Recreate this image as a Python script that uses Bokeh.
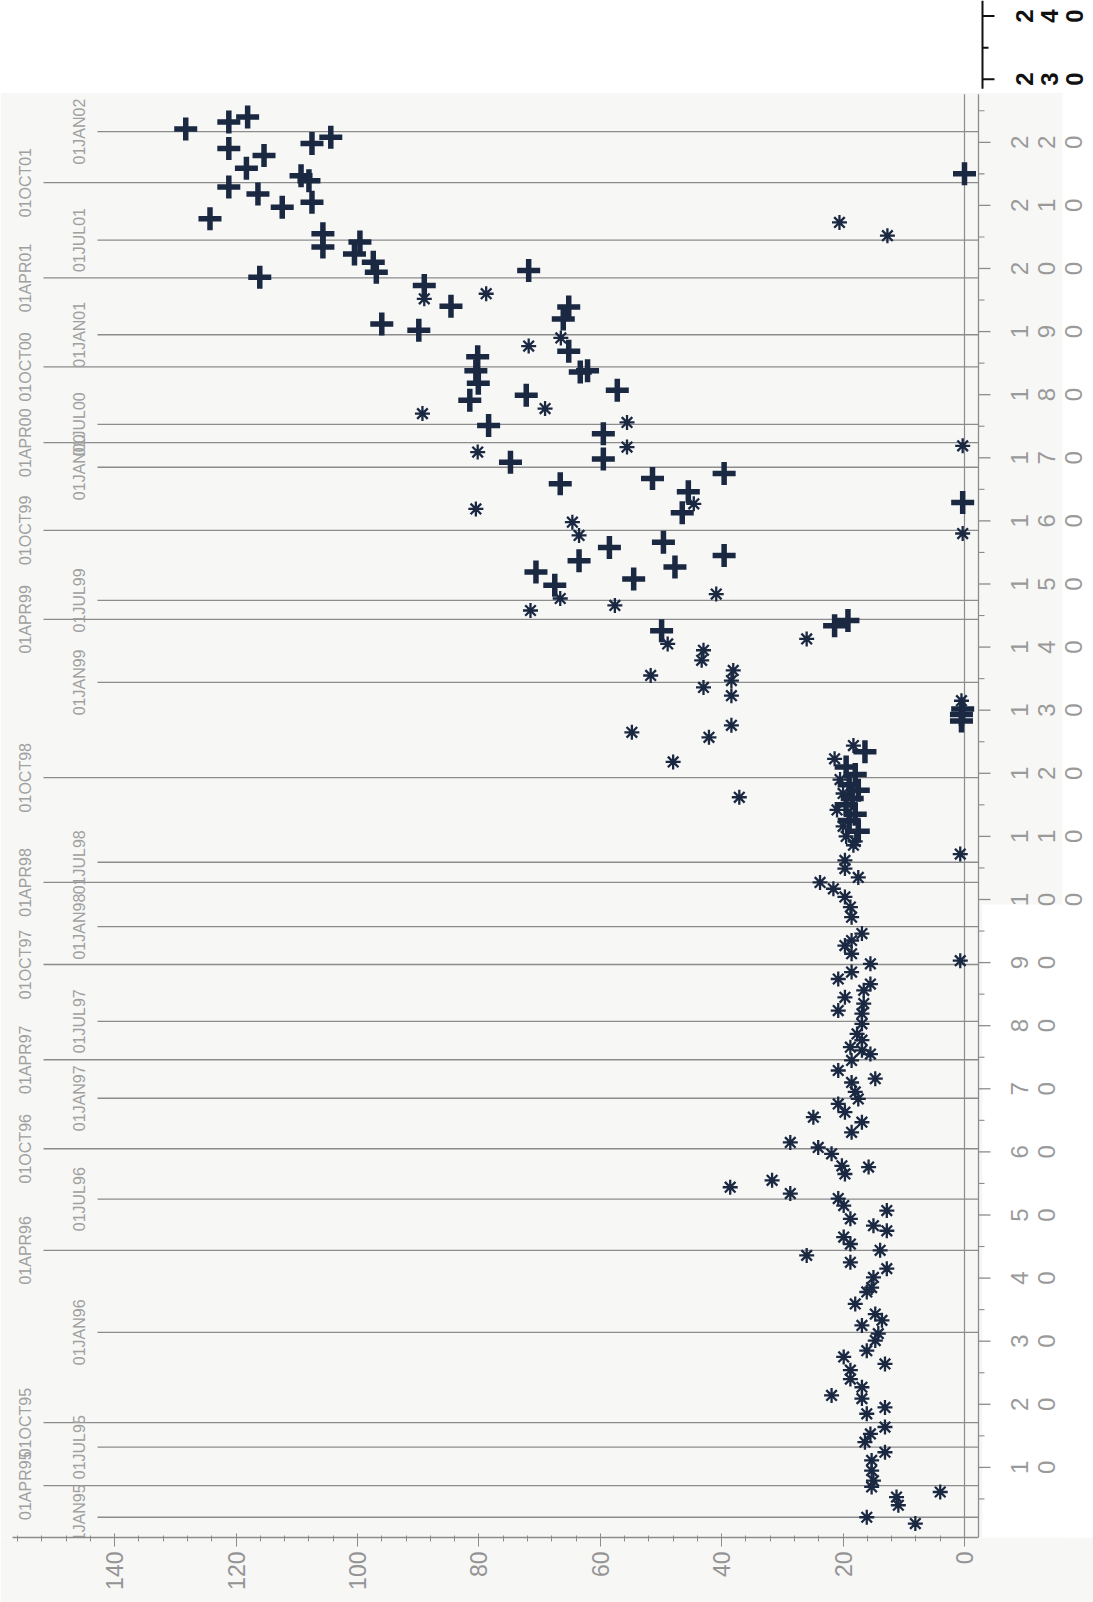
import math
from bokeh.plotting import figure
from bokeh.models import Range1d, LinearAxis, FixedTicker, BoxAnnotation
from bokeh.core.properties import value
from bokeh.embed import file_html
from bokeh.resources import INLINE

# ---------------- data ----------------
star_value = [89.0, 78.8, 66.5, 71.8, 69.1, 89.3, 55.6, 55.6, 80.2, 20.6, 12.7, 0.3,
              80.5, 44.6, 0.3, 64.6, 63.5, 66.6, 40.9, 71.5, 57.6, 26.0, 48.9, 43.0,
              43.3, 38.1, 51.7, 43.0, 38.4, 38.4, 38.4, 42.1, 54.8, 48.0, 0.5, 18.3,
              21.4, 37.1,
              20.5, 20.0, 21.0, 20.0, 19.5, 18.0,
              18.3, 19.7, 19.7, 17.5, 23.8, 21.6, 19.7, 18.8, 18.6, 16.9, 18.6, 19.7,
              18.6, 15.5, 18.6, 20.8, 15.5, 16.6, 19.7, 16.6, 20.8, 16.9, 16.9, 17.7,
              16.9, 18.8, 15.5, 16.9, 18.6, 20.8, 14.7, 18.6, 18.0, 17.5, 20.8, 19.7,
              24.9, 16.9, 18.6, 28.7, 24.1, 21.9, 0.7, 0.7,
              20.2, 19.7, 15.8, 38.6, 31.7, 28.7, 20.8, 19.9, 18.8, 12.8, 15.0, 12.8,
              19.9, 18.8, 13.9, 26.0, 18.8, 12.8, 15.0, 15.3, 16.1, 18.0, 14.7, 13.6,
              16.9, 14.2, 14.7, 16.1, 13.1, 19.9, 18.8, 18.8, 21.9, 16.9, 16.9, 16.1,
              13.1, 13.1, 15.5, 16.4, 13.1, 15.3, 15.3, 15.0, 15.3, 4.0, 11.2, 10.9,
              16.1, 8.1]
star_seq = [195.2, 196.0, 189.0, 187.7, 177.8, 177.0, 175.6, 171.7, 170.9, 207.3, 205.2, 171.9,
            161.9, 162.7, 158.0, 159.8, 157.7, 147.7, 148.4, 145.8, 146.6, 141.3, 140.5, 139.5,
            137.9, 136.3, 135.5, 133.6, 134.7, 132.3, 127.6, 125.7, 126.5, 121.8, 131.5, 124.4,
            122.3, 116.2,
            119.0, 116.8, 114.2, 111.6, 110.0, 109.2,
            108.6, 106.2, 104.9, 103.5, 102.7, 101.7, 100.4, 98.8, 97.2, 94.6, 93.5, 92.7,
            91.4, 89.8, 88.5, 87.4, 86.6, 85.6, 84.5, 83.5, 82.4, 81.9, 80.3, 78.7,
            77.7, 76.6, 75.5, 76.1, 74.5, 72.9, 71.6, 71.0, 69.5, 68.4, 67.6, 66.3,
            65.5, 64.7, 63.1, 61.5, 60.7, 59.7, 107.2, 90.3,
            57.8, 56.5, 57.6, 54.4, 55.5, 53.4, 52.6, 51.5, 49.4, 50.7, 48.3, 47.5,
            46.5, 45.4, 44.4, 43.6, 42.5, 41.5, 40.1, 38.5, 37.8, 35.9, 34.3, 33.3,
            32.5, 31.2, 30.1, 28.5, 26.4, 27.5, 25.4, 24.0, 21.4, 22.7, 20.9, 18.5,
            19.5, 16.4, 15.3, 14.0, 12.4, 11.1, 9.5, 7.9, 6.9, 6.1, 5.3, 4.0,
            2.1, 1.1]

plus_value = [128.3, 121.2, 118.1, 107.5, 104.4, 121.2, 115.4, 118.3, 109.3, 108.0, 121.2, 116.4,
              112.4, 107.5, 124.3, 105.7, 105.7, 99.6, 100.5, 97.4, 96.9, 116.1, 89.0, 84.6,
              96.0, 89.9, 71.8, 65.2, 66.1, 65.2, 80.2, 80.5, 80.1, 63.3, 62.1, 57.2,
              81.5, 72.2, 78.4, 59.5, 74.8, 59.5, 0.0,
              66.6, 51.4, 39.6, 45.5, 46.5, 0.3, 58.5, 49.6, 63.5, 39.6, 47.7, 70.6,
              67.5, 54.5, 21.4, 19.2, 49.9, 0.5, 0.5, 0.3, 16.4,
              19.5, 18.0, 19.0, 17.5, 18.5, 19.5, 18.0, 19.0, 17.5]
plus_seq = [222.1, 223.2, 224.0, 219.8, 220.8, 219.0, 217.9, 215.9, 214.7, 213.9, 212.9, 211.8,
            209.7, 210.5, 207.9, 205.5, 203.4, 204.2, 202.3, 201.0, 199.4, 198.6, 197.3, 194.0,
            191.2, 190.2, 199.7, 193.9, 192.0, 186.9, 186.0, 183.8, 181.8, 183.6, 183.8, 180.7,
            179.1, 179.9, 175.1, 173.8, 169.3, 169.8, 215.0,
            165.9, 166.7, 167.5, 164.6, 161.3, 162.9, 155.8, 156.6, 153.7, 154.5, 152.7, 151.9,
            149.8, 150.8, 143.4, 144.2, 142.6, 128.3, 129.3, 130.2, 123.4,
            121.0, 119.8, 118.2, 117.3, 116.0, 115.0, 113.5, 112.5, 110.8]

date_labels = ["01JAN95", "01APR95", "01JUL95", "01OCT95", "01JAN96", "01APR96", "01JUL96",
               "01OCT96", "01JAN97", "01APR97", "01JUL97", "01OCT97", "01JAN98", "01APR98",
               "01JUL98", "01OCT98", "01JAN99", "01APR99", "01JUL99", "01OCT99", "01JAN00",
               "01APR00", "01JUL00", "01OCT00", "01JAN01", "01APR01", "01JUL01", "01OCT01",
               "01JAN02"]
date_seq = [2.1, 7.1, 13.2, 17.1, 31.4, 44.4, 52.5, 60.5, 68.5, 74.6, 80.7, 89.7, 95.7, 102.7,
            105.9, 119.3, 134.4, 144.4, 147.4, 158.5, 168.5, 172.4, 175.3, 184.4, 189.5, 198.5,
            204.5, 213.6, 221.7]

value_ticks = [0, 20, 40, 60, 80, 100, 120, 140]
value_minor = list(range(0, 157, 4))
seq_ticks = list(range(10, 230, 10))
seq_minor = list(range(5, 230, 10))
seq_ticks_top = [230, 240]
seq_minor_top = [235]

# ---------------- figure ----------------
GRAY = "#8c8c8c"
INK = "#1a2842"
PXV = 6.07    # pixels per value unit
PXS = 6.31    # pixels per sequence unit

def vx(px):
    return (964 - px) / PXV

def sy(py):
    return (1530 - py) / PXS

p = figure(width=1093, height=1602,
           x_range=Range1d(vx(0), vx(1093)), y_range=Range1d(-1.11, 242.47),
           output_backend="svg", toolbar_location=None,
           x_axis_location=None, y_axis_location=None,
           min_border_left=0, min_border_right=0, min_border_top=0, min_border_bottom=65)
p.grid.visible = False
p.outline_line_color = None
p.background_fill_color = "white"
p.border_fill_color = "#f7f7f6"

p.add_layout(BoxAnnotation(left=vx(0), right=vx(1062), bottom=-1.11, top=227.8,
                           fill_color="#f7f7f6", fill_alpha=1.0, line_color=None, level="underlay"))
p.add_layout(BoxAnnotation(left=vx(982), right=vx(1093), bottom=-1.11, top=sy(904),
                           fill_color="white", fill_alpha=1.0, line_color=None, level="underlay"))

# bottom value axis
xaxis = LinearAxis(ticker=FixedTicker(ticks=value_ticks, minor_ticks=value_minor),
                   bounds=(vx(978), vx(12)),
                   major_label_orientation=math.pi / 2,
                   axis_line_color=GRAY, axis_line_width=1.3,
                   major_tick_line_color=GRAY, minor_tick_line_color=GRAY,
                   major_tick_in=4, major_tick_out=9, minor_tick_in=2, minor_tick_out=4,
                   major_label_standoff=5,
                   major_label_text_font="Liberation Sans",
                   major_label_text_font_size="23px",
                   major_label_text_color="#949494")
p.add_layout(xaxis, "below")

# right sequence axis drawn with glyphs (stacked, rotated digits)
AX = vx(978)
p.segment(x0=[AX], y0=[-1.11], x1=[AX], y1=[227.6], line_color=GRAY, line_width=1.3)
p.segment(x0=AX, y0=seq_ticks, x1=vx(990), y1=seq_ticks, line_color=GRAY, line_width=1.3)
p.segment(x0=AX, y0=seq_minor, x1=vx(984), y1=seq_minor, line_color=GRAY, line_width=1.1)
p.segment(x0=[vx(982)], y0=[228.5], x1=[vx(982)], y1=[242.47], line_color="#111111", line_width=2)
p.segment(x0=vx(982), y0=seq_ticks_top, x1=vx(994), y1=seq_ticks_top, line_color="#111111", line_width=2)
p.segment(x0=vx(982), y0=seq_minor_top, x1=vx(988), y1=seq_minor_top, line_color="#111111", line_width=2)

dx, dy, dt = [], [], []
for t in seq_ticks:
    for j, ch in enumerate(str(t)):
        dx.append(vx(1019 + 27 * j)); dy.append(t); dt.append(ch)
p.text(x=dx, y=dy, text=dt, angle=math.pi / 2, text_align="center", text_baseline="middle",
       text_font=value("Liberation Sans"), text_font_size="24px", text_color="#9a9a9a")
tx, ty, tt = [], [], []
for t in seq_ticks_top:
    for j, ch in enumerate(str(t)):
        tx.append(vx(1024 + 25 * j)); ty.append(t); tt.append(ch)
p.text(x=tx, y=ty, text=tt, angle=math.pi / 2, text_align="center", text_baseline="middle",
       text_font=value("Liberation Sans"), text_font_size="24px", text_font_style="bold",
       text_color="#111111")

# zero reference line
p.segment(x0=[0], y0=[-1.11], x1=[0], y1=[227.6], line_color=GRAY, line_width=1.2)

# date reference lines and labels (two staggered rows)
inner = [lab[2:5] in ("JAN", "JUL") for lab in date_labels]
line_start = [vx(97) if i else vx(43) for i in inner]
p.segment(x0=line_start, y0=date_seq, x1=AX, y1=date_seq, line_color=GRAY, line_width=1.3)
lab_x = [vx(79) if i else vx(25) for i in inner]
p.text(x=lab_x, y=date_seq, text=date_labels, angle=math.pi / 2, text_align="center",
       text_baseline="middle", text_font=value("Liberation Sans"), text_font_size="16px",
       text_color="#a0a0a0")

# data markers
p.scatter(x=star_value, y=star_seq, marker="asterisk", size=15, line_color=INK, line_width=2.3)
p.scatter(x=plus_value, y=plus_seq, marker="cross", size=23, line_color=INK, line_width=5.5)

open("out.html", "w").write(file_html(p, INLINE))
